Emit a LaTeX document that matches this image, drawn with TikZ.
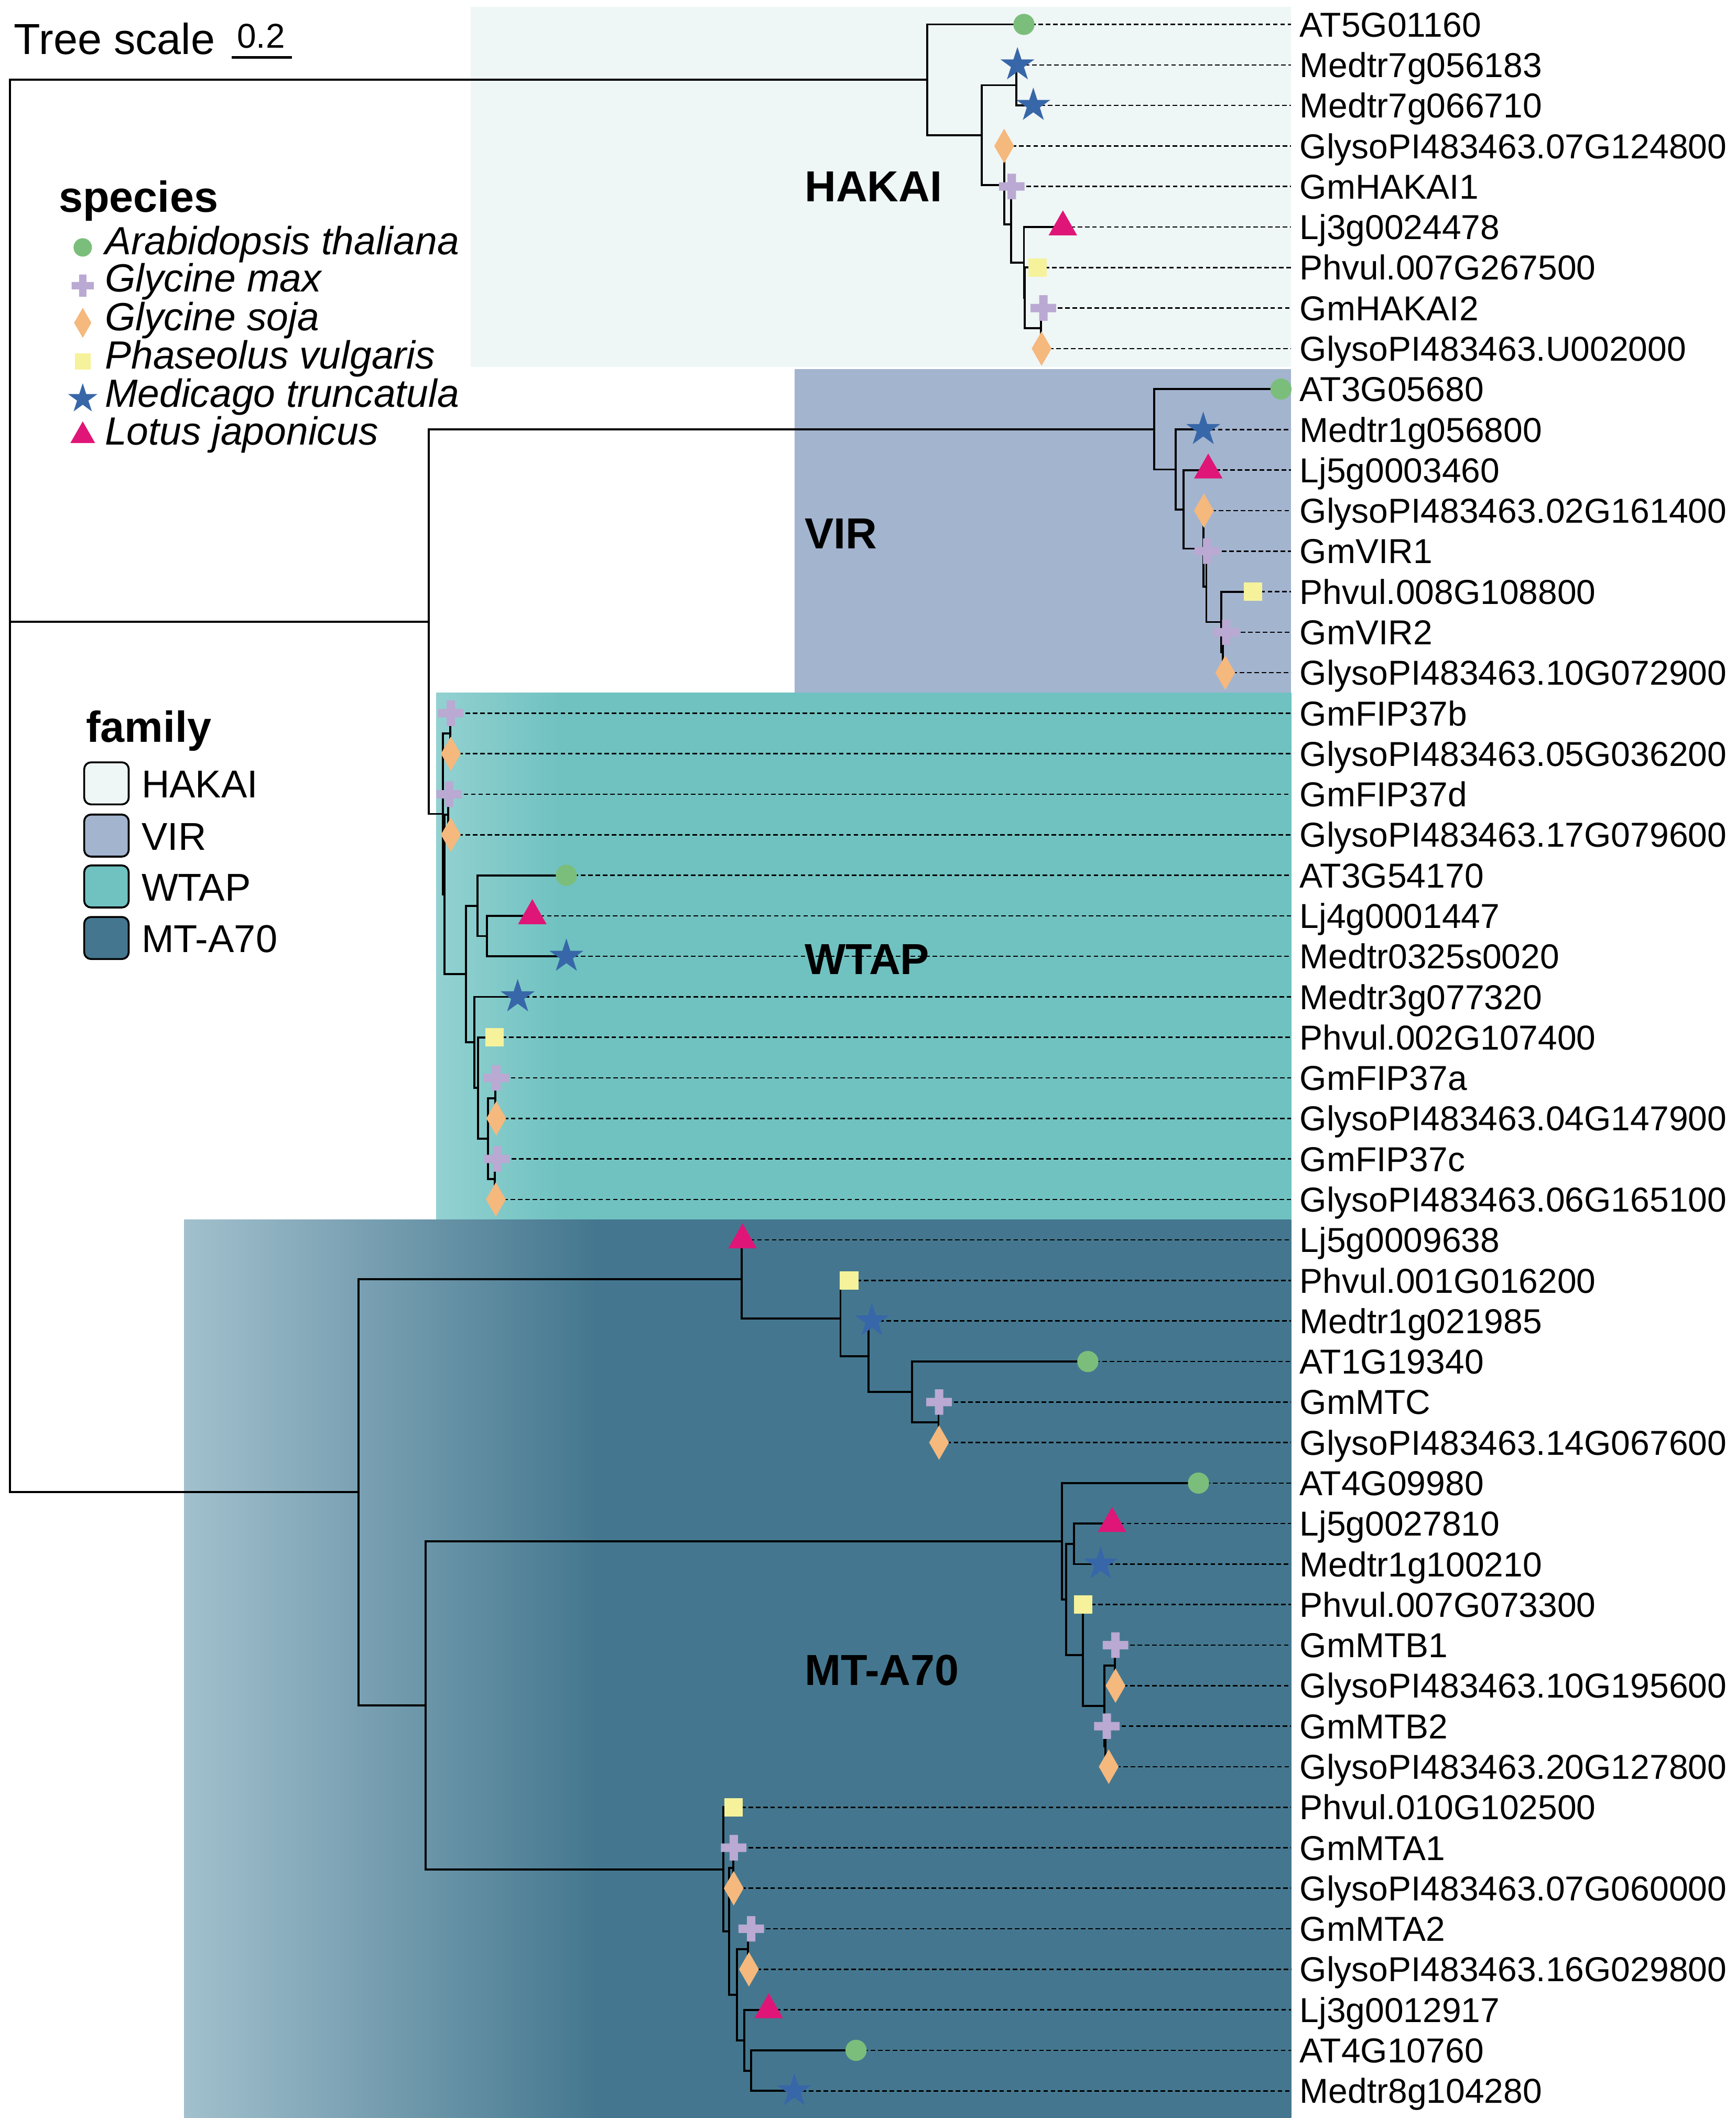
\documentclass[tikz,border=0pt]{standalone}
\usepackage{fontspec}
\setmainfont{Liberation Sans}
\definecolor{cgreen}{HTML}{7BBE7B}
\definecolor{cplus}{HTML}{BAA9D2}
\definecolor{cdiam}{HTML}{F5B87D}
\definecolor{csq}{HTML}{F6F29B}
\definecolor{cstar}{HTML}{3767A8}
\definecolor{ctri}{HTML}{DF1677}
\definecolor{hakaibg}{HTML}{EFF6F6}
\definecolor{virbg}{HTML}{A3B4CF}
\definecolor{wtapbg}{HTML}{70C2C1}
\definecolor{wtaplight}{HTML}{93D1D1}
\definecolor{mtbg}{HTML}{44778F}
\definecolor{mtlight}{HTML}{A2C0CD}
\pgfdeclarehorizontalshading{mtshade}{100bp}{color(0bp)=(mtlight); color(25bp)=(mtlight); color(43.6bp)=(mtbg); color(100bp)=(mtbg)}
\pgfdeclarehorizontalshading{wtapshade}{100bp}{color(0bp)=(wtaplight); color(25bp)=(wtaplight); color(32.2bp)=(wtapbg); color(100bp)=(wtapbg)}
\newcommand\ry[1]{18+29.87*#1}
\tikzset{
  symcirc/.pic={\fill[cgreen] (0pt,0pt) circle[radius=3.9pt];},
  symplus/.pic={\fill[cplus] (-4.7pt,-1.55pt) rectangle (4.7pt,1.55pt) (-1.55pt,-4.7pt) rectangle (1.55pt,4.7pt);},
  symdiam/.pic={\fill[cdiam] (0pt,6.35pt) -- (3.65pt,0pt) -- (0pt,-6.35pt) -- (-3.65pt,0pt) -- cycle;},
  symsq/.pic={\fill[csq] (-3.4pt,-3.4pt) rectangle (3.4pt,3.4pt);},
  symtri/.pic={\fill[ctri] (0pt,6.13pt) -- (5.25pt,-3.07pt) -- (-5.25pt,-3.07pt) -- cycle;},
  symstar/.pic={\fill[cstar] (90:6.6pt) -- (126:2.52pt) -- (162:6.6pt) -- (198:2.52pt) -- (234:6.6pt) -- (270:2.52pt) -- (306:6.6pt) -- (342:2.52pt) -- (18:6.6pt) -- (54:2.52pt) -- cycle;}
}
\begin{document}
\begin{tikzpicture}[x=0.5pt,y=-0.5pt,
  branch/.style={line width=0.75pt, line join=miter},
  leafdash/.style={line width=0.5pt, dash pattern=on 1.7pt off 1pt},
  lab/.style={anchor=west, inner xsep=3pt, inner ysep=0pt, font=\fontsize{12.75}{15}\selectfont, text height=12.13pt, text depth=3pt},
  fam/.style={anchor=west, inner sep=0pt, font=\fontsize{16}{19}\selectfont\bfseries, text height=15.46pt, text depth=4pt},
  legtxt/.style={anchor=base west, inner sep=0pt},
  legbox/.style={draw=black, line width=0.7pt, rounded corners=2.5pt, minimum width=16.4pt, minimum height=15.5pt, inner sep=0pt}
]
\useasboundingbox (0,0) rectangle (1280,1561.4);
\fill[white] (0,0) rectangle (1280,1561.4);

% clade backgrounds
\fill[hakaibg] (347.2,5) rectangle (952,270.6);
\fill[virbg] (586,272) rectangle (952,{\ry{16.5}});
\shade[shading=wtapshade] (321.8,{\ry{16.5}}) rectangle (952,{\ry{29.5}});
\shade[shading=mtshade] (135.8,{\ry{29.5}}) rectangle (952,1561.4);

% leaves and labels
\foreach \i/\x/\t in {
 0/755.0/AT5G01160, 1/750.2/Medtr7g056183, 2/761.9/Medtr7g066710,
 3/740.4/GlysoPI483463.07G124800, 4/746.0/GmHAKAI1, 5/783.7/Lj3g0024478,
 6/764.9/Phvul.007G267500, 7/769.3/GmHAKAI2, 8/768.0/GlysoPI483463.U002000,
 9/944.5/AT3G05680, 10/887.2/Medtr1g056800, 11/890.9/Lj5g0003460,
 12/887.7/GlysoPI483463.02G161400, 13/890.1/GmVIR1, 14/923.9/Phvul.008G108800,
 15/904.1/GmVIR2, 16/903.4/GlysoPI483463.10G072900,
 17/332.4/GmFIP37b, 18/332.4/GlysoPI483463.05G036200, 19/331.1/GmFIP37d,
 20/332.4/GlysoPI483463.17G079600, 21/417.6/AT3G54170, 22/392.5/Lj4g0001447,
 23/417.6/Medtr0325s0020, 24/381.7/Medtr3g077320, 25/364.5/Phvul.002G107400,
 26/365.9/GmFIP37a, 27/365.9/GlysoPI483463.04G147900, 28/366.5/GmFIP37c,
 29/365.6/GlysoPI483463.06G165100,
 30/547.5/Lj5g0009638, 31/626.1/Phvul.001G016200, 32/642.9/Medtr1g021985,
 33/802.1/AT1G19340, 34/692.4/GmMTC, 35/692.4/GlysoPI483463.14G067600,
 36/883.7/AT4G09980, 37/820.0/Lj5g0027810, 38/811.6/Medtr1g100210,
 39/798.8/Phvul.007G073300, 40/822.5/GmMTB1, 41/822.5/GlysoPI483463.10G195600,
 42/816.1/GmMTB2, 43/817.5/GlysoPI483463.20G127800, 44/541.0/Phvul.010G102500,
 45/541.0/GmMTA1, 46/541.0/GlysoPI483463.07G060000, 47/553.9/GmMTA2,
 48/552.2/GlysoPI483463.16G029800, 49/566.8/Lj3g0012917, 50/631.2/AT4G10760,
 51/585.7/Medtr8g104280}{
  \coordinate (L\i) at (\x,{\ry{\i}});
  \node[lab] (lab\i) at (952,{\ry{\i}}) {\t};
}
\foreach \i in {0,...,51} \draw[leafdash] (L\i) -- (lab\i.west);

% internal nodes
\coordinate (R) at (7.3,{\ry{17.44}});
\coordinate (H0) at (683.8,{\ry{1.3671875}});
\coordinate (H1) at (724.0,{\ry{2.734375}});
\coordinate (H2) at (749.4,{\ry{1.5}});
\coordinate (H3) at (740.4,{\ry{3.96875}});
\coordinate (H4) at (745.4,{\ry{4.9375}});
\coordinate (H5) at (755.0,{\ry{5.875}});
\coordinate (H6) at (755.6,{\ry{6.75}});
\coordinate (H7) at (767.6,{\ry{7.5}});
\coordinate (VW) at (316.3,{\ry{14.73828125}});
\coordinate (V0) at (850.9,{\ry{9.9921875}});
\coordinate (V1) at (867.0,{\ry{10.984375}});
\coordinate (V2) at (872.8,{\ry{11.96875}});
\coordinate (V3) at (887.2,{\ry{12.9375}});
\coordinate (V4) at (889.5,{\ry{13.875}});
\coordinate (V5) at (900.5,{\ry{14.75}});
\coordinate (V6) at (901.5,{\ry{15.5}});
\coordinate (W0) at (326.6,{\ry{19.484375}});
\coordinate (Wa) at (332.0,{\ry{17.5}});
\coordinate (W1) at (327.9,{\ry{21.46875}});
\coordinate (Wb) at (330.5,{\ry{19.5}});
\coordinate (W2) at (343.7,{\ry{23.4375}});
\coordinate (W3) at (352.0,{\ry{21.75}});
\coordinate (W4) at (359.2,{\ry{22.5}});
\coordinate (W5) at (349.8,{\ry{25.125}});
\coordinate (W6) at (352.6,{\ry{26.25}});
\coordinate (W7) at (359.8,{\ry{27.5}});
\coordinate (W8) at (365.2,{\ry{26.5}});
\coordinate (W9) at (364.8,{\ry{28.5}});
\coordinate (M0) at (264.3,{\ry{36.2265625}});
\coordinate (M1) at (547.0,{\ry{30.96875}});
\coordinate (M3) at (619.7,{\ry{31.9375}});
\coordinate (M4) at (640.4,{\ry{32.875}});
\coordinate (M5) at (672.5,{\ry{33.75}});
\coordinate (M6) at (692.0,{\ry{34.5}});
\coordinate (M2) at (313.7,{\ry{41.484375}});
\coordinate (M7) at (783.0,{\ry{37.4375}});
\coordinate (M9) at (786.1,{\ry{38.875}});
\coordinate (M10) at (792.0,{\ry{37.5}});
\coordinate (M11) at (798.5,{\ry{40.25}});
\coordinate (M12) at (814.2,{\ry{41.5}});
\coordinate (M13) at (821.9,{\ry{40.5}});
\coordinate (M14) at (815.1,{\ry{42.5}});
\coordinate (M8) at (533.3,{\ry{45.53125}});
\coordinate (M15) at (537.5,{\ry{47.0625}});
\coordinate (M16) at (540.6,{\ry{45.5}});
\coordinate (M17) at (543.3,{\ry{48.625}});
\coordinate (M18) at (551.6,{\ry{47.5}});
\coordinate (M19) at (548.7,{\ry{49.75}});
\coordinate (M20) at (553.9,{\ry{50.5}});

% branches
\foreach \p/\c in {R/H0, R/VW, R/M0,
 H0/L0, H0/H1, H1/H2, H1/H3, H2/L1, H2/L2, H3/L3, H3/H4, H4/L4, H4/H5,
 H5/L5, H5/H6, H6/L6, H6/H7, H7/L7, H7/L8,
 VW/V0, VW/W0, V0/L9, V0/V1, V1/L10, V1/V2, V2/L11, V2/V3, V3/L12, V3/V4,
 V4/L13, V4/V5, V5/L14, V5/V6, V6/L15, V6/L16,
 W0/Wa, W0/W1, Wa/L17, Wa/L18, W1/Wb, W1/W2, Wb/L19, Wb/L20, W2/W3, W2/W5,
 W3/L21, W3/W4, W4/L22, W4/L23, W5/L24, W5/W6, W6/L25, W6/W7, W7/W8, W7/W9,
 W8/L26, W8/L27, W9/L28, W9/L29,
 M0/M1, M0/M2, M1/L30, M1/M3, M3/L31, M3/M4, M4/L32, M4/M5, M5/L33, M5/M6,
 M6/L34, M6/L35, M2/M7, M2/M8, M7/L36, M7/M9, M9/M10, M9/M11, M10/L37, M10/L38,
 M11/L39, M11/M12, M12/M13, M12/M14, M13/L40, M13/L41, M14/L42, M14/L43,
 M8/L44, M8/M15, M15/M16, M15/M17, M16/L45, M16/L46, M17/M18, M17/M19,
 M18/L47, M18/L48, M19/L49, M19/M20, M20/L50, M20/L51}
 \draw[branch] (\p) |- (\c);

% leaf symbols
\foreach \k in {0,9,21,33,36,50} \pic at (L\k) {symcirc};
\foreach \k in {4,7,13,15,17,19,26,28,34,40,42,45,47} \pic at (L\k) {symplus};
\foreach \k in {3,8,12,16,18,20,27,29,35,41,43,46,48} \pic at (L\k) {symdiam};
\foreach \k in {6,14,25,31,39,44} \pic at (L\k) {symsq};
\foreach \k in {5,11,22,30,37,49} \pic at (L\k) {symtri};
\foreach \k in {1,2,10,23,24,32,38,51} \pic at (L\k) {symstar};

% clade names
\node[fam] (fHAKAI) at (593,137) {HAKAI};
\node[fam] (fVIR) at (593,393) {VIR};
\node[fam] (fWTAP) at (593,707) {WTAP};
\node[fam] (fMT) at (593,1231) {MT-A70};

% tree scale
\node[legtxt, font=\fontsize{16}{19}\selectfont] (ts) at (10,40) {Tree scale};
\node[anchor=base, inner sep=0pt, font=\fontsize{12.7}{15}\selectfont] (tsv) at (192.5,35.5) {0.2};
\coordinate (sbA) at (170.9,42.4);
\coordinate (sbB) at (215.2,42.4);
\draw[line width=0.9pt] (sbA) -- (sbB);

% species legend
\node[legtxt, font=\fontsize{16}{19}\selectfont\bfseries] (sp) at (43,156.3) {species};
\coordinate (s1) at (61,182.4);
\coordinate (s2) at (61,210.6);
\coordinate (s3) at (61,238);
\coordinate (s4) at (61,266.6);
\coordinate (s5) at (61,294);
\coordinate (s6) at (61,321.3);
\pic[scale=0.87] at (s1) {symcirc};
\pic[scale=0.87] at (s2) {symplus};
\pic[scale=0.87] at (s3) {symdiam};
\pic[scale=0.87] at (s4) {symsq};
\pic[scale=0.87] at (s5) {symstar};
\pic[scale=0.87] at (s6) {symtri};
\begin{scope}[every node/.style={legtxt, font=\fontsize{14.5}{17}\selectfont\itshape}]
\node (st1) at (77,187.8) {Arabidopsis thaliana};
\node (st2) at (77,215) {Glycine max};
\node (st3) at (77,243.8) {Glycine soja};
\node (st4) at (77,272) {Phaseolus vulgaris};
\node (st5) at (77,300) {Medicago truncatula};
\node (st6) at (77,328) {Lotus japonicus};
\end{scope}

% family legend
\node[legtxt, font=\fontsize{16}{19}\selectfont\bfseries] (fam) at (63,547) {family};
\node[legbox, fill=hakaibg] (fb1) at (78.5,577.5) {};
\node[legbox, fill=virbg] (fb2) at (78.5,616) {};
\node[legbox, fill=wtapbg] (fb3) at (78.5,653.5) {};
\node[legbox, fill=mtbg] (fb4) at (78.5,691.5) {};
\begin{scope}[every node/.style={legtxt, font=\fontsize{14.3}{17}\selectfont}]
\node (ft1) at (104,588) {HAKAI};
\node (ft2) at (104,626.6) {VIR};
\node (ft3) at (104,664) {WTAP};
\node (ft4) at (104,702) {MT-A70};
\end{scope}
\end{tikzpicture}
\end{document}
